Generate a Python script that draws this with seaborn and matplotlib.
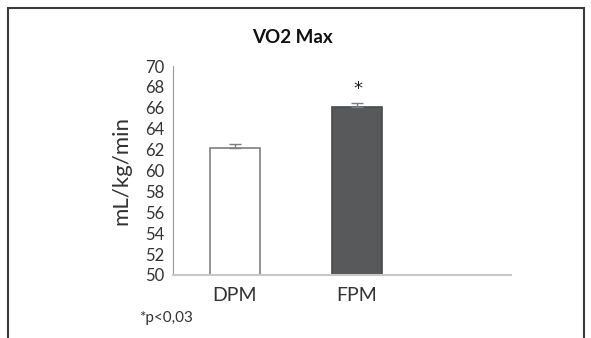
import matplotlib
matplotlib.use("Agg")
import matplotlib.pyplot as plt
import seaborn as sns
import pandas as pd
from matplotlib.patches import Rectangle

groups = ["DPM", "FPM"]
values = [62.2, 66.1]
errors = [0.3, 0.4]
bar_colors = ["#ffffff", "#58595b"]
edge_colors = ["#7f7f7f", "#4a4a4a"]
yticks = [50, 52, 54, 56, 58, 60, 62, 64, 66, 68, 70]

sns.set_theme(style="white")
plt.rcParams['font.family'] = ['Lato', 'DejaVu Sans']

df = pd.DataFrame({"group": groups, "value": values})

fig = plt.figure(figsize=(5.91, 3.38), dpi=100)
ax = fig.add_axes([0.2927, 0.1864, 0.5719, 0.6183])

sns.barplot(data=df, x="group", y="value", hue="group", palette=bar_colors,
            width=0.41, ax=ax, legend=False, errorbar=None)
for patch, ec in zip(ax.patches, edge_colors):
    patch.set_edgecolor(ec)
    patch.set_linewidth(1.2)

ax.errorbar(range(len(groups)), values, yerr=[[0] * len(errors), errors],
            fmt="none", ecolor="#7f7f7f", elinewidth=1.0, capsize=4, capthick=1.0)

ax.set_ylim(50, 70)
ax.set_xlim(-0.508, 2.262)
ax.set_yticks(yticks)
ax.set_yticklabels([str(t) for t in yticks], fontsize=12, color="#333333")
ax.set_xticks(range(len(groups)))
ax.set_xticklabels(groups, fontsize=14, color="#333333")
ax.tick_params(axis="y", direction="out", length=4, width=0.8, color="#999999", pad=2)
ax.tick_params(axis="x", length=0, pad=9)
ax.set_xlabel("")
ax.set_ylabel("mL/kg/min", fontsize=16, color="#333333", labelpad=10)

for s in ["top", "right"]:
    ax.spines[s].set_visible(False)
ax.spines["left"].set_color("#999999")
ax.spines["left"].set_linewidth(0.8)
ax.spines["bottom"].set_color("#c8c8c8")
ax.spines["bottom"].set_linewidth(1.5)

ax.text(1.01, 67.8, "*", ha="center", va="center", fontsize=13,
        color="#222222", family="DejaVu Sans")

fig.text(0.494, 0.888, "VO2 Max", ha="center", va="center", fontsize=13.5,
         fontweight="bold", color="#111111")
fig.text(0.236, 0.058, "*p<0,03", ha="left", va="center", fontsize=11,
         color="#333333")

fig.patches.append(Rectangle((7.5 / 591, -0.1), (583.5 - 7.5) / 591, 1.1 - 8.5 / 338,
                             transform=fig.transFigure, fill=False,
                             edgecolor="#3a3a3a", linewidth=1.5))

fig.savefig("out.png", dpi=100)
